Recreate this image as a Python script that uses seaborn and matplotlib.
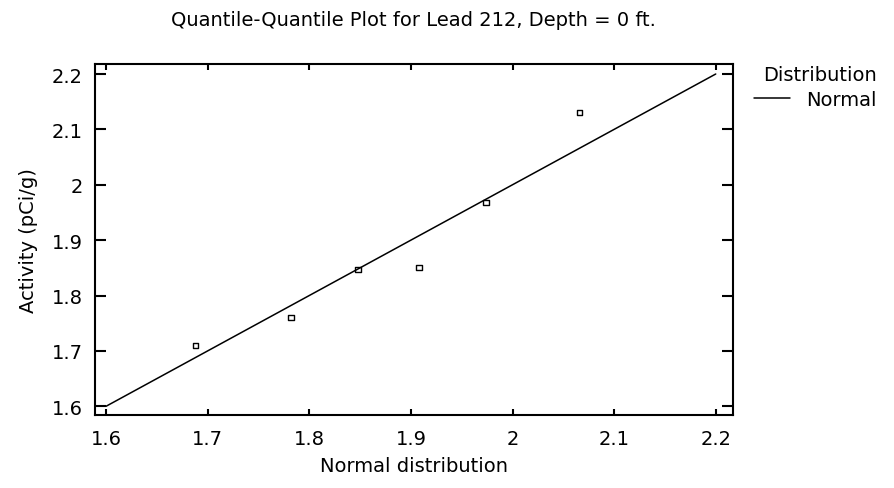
import matplotlib
matplotlib.use('Agg')
import matplotlib.pyplot as plt
import seaborn as sns
import pandas as pd

# quantiles
normal_quantiles = [1.688, 1.782, 1.848, 1.908, 1.974, 2.066]
activity = [1.71, 1.76, 1.847, 1.85, 1.968, 2.13]

# reference line for the fitted normal
fit_x = [1.6, 2.2]
fit_y = [1.6, 2.2]

x_ticks = [1.6, 1.7, 1.8, 1.9, 2.0, 2.1, 2.2]
x_labels = ['1.6', '1.7', '1.8', '1.9', '2', '2.1', '2.2']
y_ticks = [1.6, 1.7, 1.8, 1.9, 2.0, 2.1, 2.2]
y_labels = ['1.6', '1.7', '1.8', '1.9', '2', '2.1', '2.2']

sns.set_style("ticks")
plt.rcParams['font.family'] = ['DejaVu Sans']
plt.rcParams['text.color'] = 'black'
plt.rcParams['axes.labelcolor'] = 'black'

df_pts = pd.DataFrame({'q': normal_quantiles, 'act': activity})
df_fit = pd.DataFrame({'x': fit_x, 'y': fit_y, 'dist': ['Normal'] * len(fit_x)})

fig = plt.figure(figsize=(8.95, 4.89), dpi=100)
ax = fig.add_axes([0.106, 0.149, 0.713, 0.718])

sns.lineplot(data=df_fit, x='x', y='y', hue='dist', palette=['black'], linewidth=1.1, ax=ax)
sns.scatterplot(data=df_pts, x='q', y='act', marker='s', s=14, facecolors='none',
                edgecolor='black', linewidth=1.0, ax=ax, legend=False)

ax.set_xlim(1.589, 2.217)
ax.set_ylim(1.584, 2.218)
ax.set_xticks(x_ticks)
ax.set_xticklabels(x_labels)
ax.set_yticks(y_ticks)
ax.set_yticklabels(y_labels)
ax.tick_params(direction='in', width=1.5, labelsize=14, colors='black',
               top=True, right=True)
ax.tick_params(axis='x', length=4, pad=10)
ax.tick_params(axis='y', length=8, pad=8.5)
for sp in ax.spines.values():
    sp.set_linewidth(1.5)
    sp.set_color('black')

ax.set_xlabel('Normal distribution', fontsize=14, labelpad=6, color='black')
ax.set_ylabel('Activity (pCi/g)', fontsize=14, labelpad=10, color='black')
ax.set_title('Quantile-Quantile Plot for Lead 212, Depth = 0 ft.', fontsize=14, pad=28,
             color='black')

leg = ax.legend(title='Distribution', loc='upper left', bbox_to_anchor=(1.02, 1.02),
                frameon=False, fontsize=14, title_fontsize=14, handlelength=1.9,
                handletextpad=0.8, borderaxespad=0, labelspacing=0.3)
leg._legend_box.align = 'right'
leg.get_title().set_color('black')
for t in leg.get_texts():
    t.set_color('black')

fig.savefig('out.png', dpi=100)
